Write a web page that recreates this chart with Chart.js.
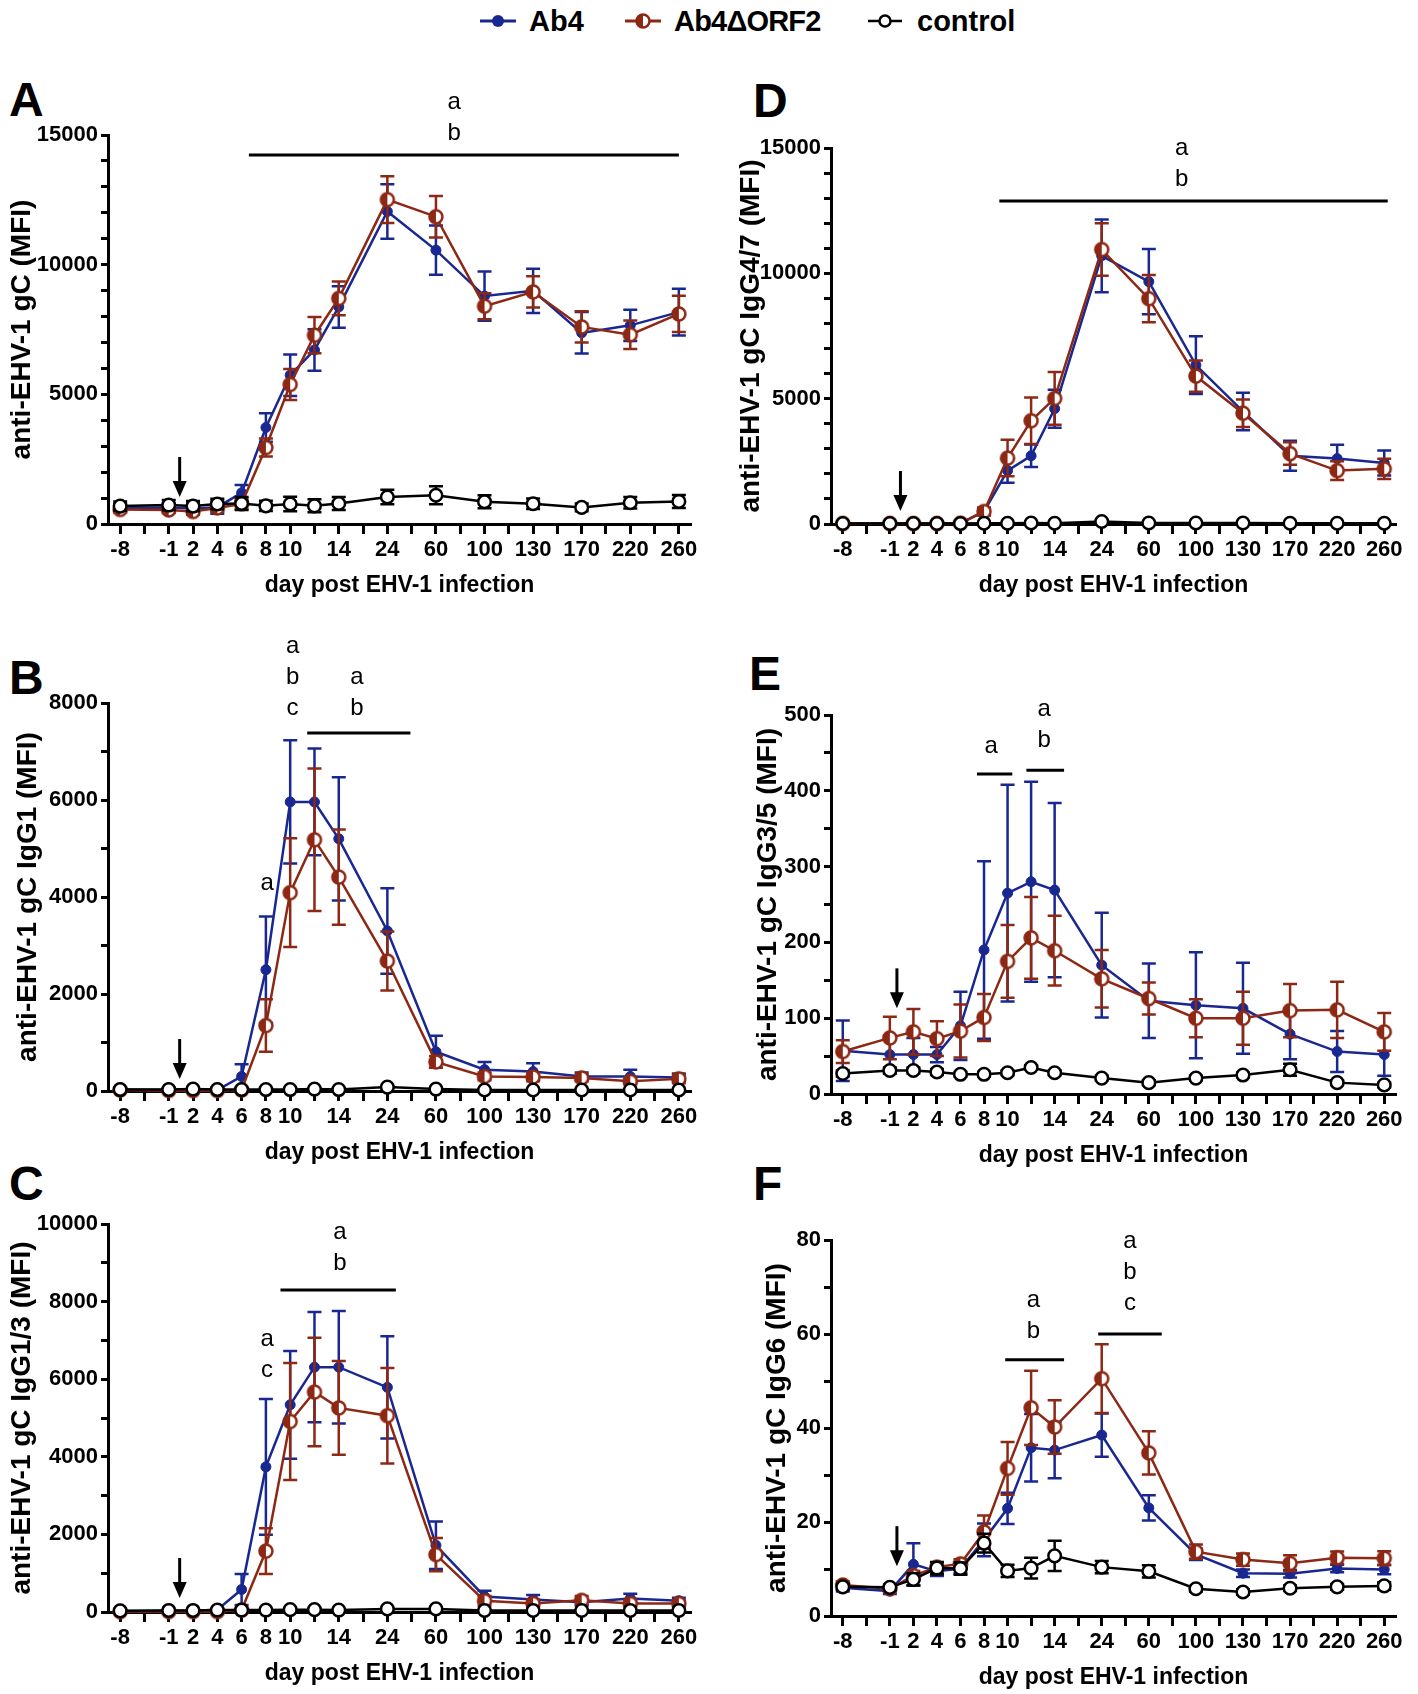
<!DOCTYPE html>
<html>
<head>
<meta charset="utf-8">
<script src="https://cdn.jsdelivr.net/npm/chart.js@4.4.1/dist/chart.umd.min.js"></script>
<style>
  body { margin: 0; background: #fff; width: 1418px; height: 1694px; position: relative; overflow: hidden;
         font-family: 'Liberation Sans', Arial, sans-serif; color: #000; }
  .abs { position: absolute; }
  .letter { position: absolute; font-weight: bold; font-size: 48px; line-height: 1; }
  .legtxt { position: absolute; top: 0; font-weight: bold; font-size: 29px; line-height: 42px; }
</style>
</head>
<body>

<!-- legend -->
<svg class="abs" style="left:480px;top:11px" width="36" height="20">
  <line x1="0" y1="10" x2="36" y2="10" stroke="#192891" stroke-width="3"/>
  <circle cx="18" cy="10" r="6" fill="#192891"/>
</svg>
<span class="legtxt" style="left:529px">Ab4</span>
<svg class="abs" style="left:625px;top:11px" width="36" height="20">
  <line x1="0" y1="10" x2="36" y2="10" stroke="#8c2814" stroke-width="3"/>
  <circle cx="18" cy="10" r="6.5" fill="#fff" stroke="#8c2814" stroke-width="2.5"/>
  <path d="M18 3.5 A6.5 6.5 0 0 0 18 16.5 Z" fill="#8c2814"/>
</svg>
<span class="legtxt" style="left:674px;letter-spacing:-0.8px">Ab4ΔORF2</span>
<svg class="abs" style="left:868px;top:11px" width="34" height="20">
  <line x1="0" y1="10" x2="34" y2="10" stroke="#000" stroke-width="2.5"/>
  <circle cx="17" cy="10" r="5.5" fill="#fff" stroke="#000" stroke-width="2.5"/>
</svg>
<span class="legtxt" style="left:917px">control</span>

<div class="letter" style="left:9px;top:76px">A</div>
<div class="letter" style="left:753px;top:77px">D</div>
<div class="letter" style="left:9px;top:654px">B</div>
<div class="letter" style="left:749px;top:650px">E</div>
<div class="letter" style="left:9px;top:1160px">C</div>
<div class="letter" style="left:753px;top:1160px">F</div>

<div class="abs" style="left:0;top:60px"><canvas id="cA" width="709" height="544"></canvas></div>
<div class="abs" style="left:709px;top:60px"><canvas id="cD" width="709" height="544"></canvas></div>
<div class="abs" style="left:0;top:615px"><canvas id="cB" width="709" height="559"></canvas></div>
<div class="abs" style="left:709px;top:615px"><canvas id="cE" width="709" height="559"></canvas></div>
<div class="abs" style="left:0;top:1170px"><canvas id="cC" width="709" height="524"></canvas></div>
<div class="abs" style="left:709px;top:1170px"><canvas id="cF" width="709" height="524"></canvas></div>

<script>
// x axis slots (blank slots are the gaps Prism leaves between days)
const xLabels = ['-8', '', '-1', '2', '4', '6', '8', '10', '12', '14', '', '24', '', '60', '', '100', '', '130', '', '170', '', '220', '', '260'];
const days = ['-8', '-1', '2', '4', '6', '8', '10', '12', '14', '24', '60', '100', '130', '170', '220', '260'];

// A: total gC
const aAb4     = [620, 640, 600, 650, 1200, 3720, 5740, 6710, 8370, 12050, 10560, 8790, 8990, 7370, 7660, 8170];
const aAb4Err  = [150, 150, 200, 250, 300, 550, 800, 800, 800, 1050, 950, 950, 850, 800, 600, 900];
const aOrf2    = [560, 540, 480, 620, 780, 2950, 5380, 7280, 8700, 12510, 11850, 8400, 8950, 7600, 7300, 8100];
const aOrf2Err = [120, 120, 120, 150, 200, 350, 600, 700, 650, 900, 800, 500, 600, 600, 550, 700];
const aCtrl    = [690, 730, 690, 770, 790, 700, 770, 700, 790, 1040, 1110, 860, 780, 640, 820, 870];
const aCtrlErr = [180, 200, 200, 200, 250, 200, 280, 250, 250, 280, 350, 250, 200, 150, 220, 250];

// B: IgG1
const bAb4     = [30, 20, 40, 20, 300, 2500, 5960, 5960, 5200, 3300, 810, 440, 400, 300, 300, 280];
const bAb4Err  = [10, 10, 10, 10, 250, 1100, 1270, 1100, 1270, 880, 330, 160, 170, 80, 140, 80];
const bOrf2    = [20, 10, 10, 10, 20, 1350, 4090, 5180, 4410, 2680, 600, 300, 290, 270, 200, 250];
const bOrf2Err = [10, 10, 10, 10, 10, 540, 1120, 1470, 980, 610, 120, 80, 90, 70, 60, 90];
const bCtrl    = [30, 30, 40, 30, 30, 30, 30, 40, 30, 80, 40, 20, 20, 20, 20, 20];
const bCtrlErr = [10, 10, 10, 10, 10, 10, 10, 10, 10, 20, 10, 10, 10, 10, 10, 10];

// C: IgG1/3
const cAb4     = [20, 30, 30, 60, 580, 3740, 5340, 6310, 6310, 5790, 1720, 400, 320, 250, 350, 290];
const cAb4Err  = [10, 10, 10, 20, 400, 1750, 1390, 1420, 1450, 1320, 610, 150, 120, 80, 120, 80];
const cOrf2    = [10, 10, 10, 10, 50, 1570, 4910, 5670, 5260, 5060, 1480, 290, 220, 300, 220, 220];
const cOrf2Err = [10, 10, 10, 10, 20, 590, 1510, 1400, 1210, 1230, 430, 120, 100, 110, 80, 80];
const cCtrl    = [30, 40, 40, 50, 50, 50, 60, 60, 50, 80, 80, 40, 40, 40, 40, 40];
const cCtrlErr = [10, 10, 10, 10, 10, 10, 10, 10, 10, 20, 20, 10, 10, 10, 10, 10];

// D: IgG4/7
const dAb4     = [20, 20, 20, 20, 30, 500, 2130, 2720, 4600, 10700, 9670, 6340, 4490, 2720, 2610, 2430];
const dAb4Err  = [10, 10, 10, 10, 20, 150, 480, 450, 760, 1450, 1300, 1150, 750, 600, 550, 500];
const dOrf2    = [20, 20, 20, 20, 30, 500, 2630, 4120, 5010, 10950, 8990, 5900, 4420, 2810, 2130, 2200];
const dOrf2Err = [10, 10, 10, 10, 20, 150, 730, 930, 1050, 1050, 940, 620, 550, 450, 370, 400];
const dCtrl    = [20, 20, 20, 20, 20, 30, 30, 40, 30, 100, 40, 40, 40, 30, 30, 30];
const dCtrlErr = [5, 5, 5, 5, 5, 5, 5, 5, 5, 10, 5, 5, 5, 5, 5, 5];

// E: IgG3/5
const eAb4     = [57, 52, 52, 52, 90, 190, 265, 280, 269, 170, 123, 117, 113, 79, 56, 52];
const eAb4Err  = [40, 25, 22, 10, 45, 117, 143, 132, 115, 69, 49, 70, 60, 33, 27, 28];
const eOrf2    = [56, 74, 82, 73, 83, 101, 175, 206, 189, 152, 126, 100, 100, 110, 111, 82];
const eOrf2Err = [15, 28, 30, 23, 35, 31, 48, 54, 46, 38, 21, 25, 35, 35, 37, 25];
const eCtrl    = [27, 31, 31, 29, 26, 26, 28, 35, 28, 21, 15, 21, 25, 32, 15, 12];
const eCtrlErr = [4, 4, 4, 4, 3, 3, 3, 3, 3, 3, 3, 3, 3, 8, 3, 3];

// F: IgG6
const fAb4     = [6.0, 5.3, 11.0, 9.5, 10.1, 16.2, 22.9, 35.8, 35.3, 38.5, 23.0, 13.1, 9.1, 9.0, 10.1, 9.9];
const fAb4Err  = [0.8, 0.6, 4.5, 1.0, 1.0, 3.5, 3.3, 7.2, 6.0, 4.6, 2.7, 1.2, 0.8, 0.8, 0.8, 1.0];
const fOrf2    = [6.6, 5.8, 8.6, 10.4, 11.1, 17.9, 31.4, 44.3, 40.2, 50.5, 34.7, 13.7, 12.0, 11.2, 12.4, 12.3];
const fOrf2Err = [0.8, 0.6, 1.0, 1.0, 1.0, 3.5, 5.6, 7.9, 5.7, 7.3, 4.6, 1.5, 1.3, 1.7, 1.3, 1.5];
const fCtrl    = [6.2, 6.1, 7.8, 10.2, 10.1, 15.5, 9.6, 10.2, 12.8, 10.4, 9.5, 5.8, 5.1, 5.9, 6.2, 6.4];
const fCtrlErr = [0.6, 0.6, 1.3, 1.3, 1.3, 2.0, 1.3, 2.2, 3.2, 1.3, 1.3, 0.6, 0.6, 0.6, 0.6, 0.8];

const blue = '#192891';
const brown = '#8c2814';
const narrow = "'Liberation Sans Narrow', 'Liberation Sans', Arial, sans-serif";
const sans = "'Liberation Sans', Arial, sans-serif";
const X_H = 78;
const Y_TITLE = 28;

// layout of each panel on the page, plus significance marks (x in slot units, y in data units)
const panels = [
  { id: 'cA', left: 0, top: 60, h: 544, area: { top: 135, bottom: 524, left: 108, right: 691 },
    max: 15000, step: 1000, major: 5000, title: 'anti-EHV-1 gC (MFI)', titleX: 22,
    s: [aAb4, aAb4Err, aOrf2, aOrf2Err, aCtrl, aCtrlErr],
    bars: [{ from: 5.3, to: 23.0, y: 14229 }],
    marks: [{ x: 13.75, y: 15077, text: ['a', 'b'] }],
    arrow: { x: 2.45, y: 1041 } },
  { id: 'cD', left: 709, top: 60, h: 544, area: { top: 148, bottom: 524, left: 831, right: 1396 },
    max: 15000, step: 1000, major: 5000, title: 'anti-EHV-1 gC IgG4/7 (MFI)', titleX: 751,
    s: [dAb4, dAb4Err, dOrf2, dOrf2Err, dCtrl, dCtrlErr],
    bars: [{ from: 6.65, to: 23.15, y: 12886 }],
    marks: [{ x: 14.4, y: 13763, text: ['a', 'b'] }],
    arrow: { x: 2.45, y: 519 } },
  { id: 'cB', left: 0, top: 615, h: 559, area: { top: 703, bottom: 1091, left: 108, right: 691 },
    max: 8000, step: 1000, major: 2000, title: 'anti-EHV-1 gC IgG1 (MFI)', titleX: 28,
    s: [bAb4, bAb4Err, bOrf2, bOrf2Err, bCtrl, bCtrlErr],
    bars: [{ from: 7.7, to: 11.95, y: 7381 }],
    marks: [{ x: 7.1, y: 7897, text: ['a', 'b', 'c'] }, { x: 9.75, y: 7897, text: ['a', 'b'] },
            { x: 6.05, y: 4289, text: ['a'] }],
    arrow: { x: 2.45, y: 247 } },
  { id: 'cE', left: 709, top: 615, h: 559, area: { top: 715, bottom: 1094, left: 831, right: 1396 },
    max: 500, step: 50, major: 100, title: 'anti-EHV-1 gC IgG3/5 (MFI)', titleX: 768,
    s: [eAb4, eAb4Err, eOrf2, eOrf2Err, eCtrl, eCtrlErr],
    bars: [{ from: 5.7, to: 7.2, y: 422 }, { from: 7.8, to: 9.4, y: 427 }],
    marks: [{ x: 6.3, y: 459, text: ['a'] }, { x: 8.55, y: 466, text: ['a', 'b'] }],
    arrow: { x: 2.3, y: 113 } },
  { id: 'cC', left: 0, top: 1170, h: 524, area: { top: 1224, bottom: 1612, left: 108, right: 691 },
    max: 10000, step: 1000, major: 2000, title: 'anti-EHV-1 gC IgG1/3 (MFI)', titleX: 22,
    s: [cAb4, cAb4Err, cOrf2, cOrf2Err, cCtrl, cCtrlErr],
    bars: [{ from: 6.6, to: 11.35, y: 8299 }],
    marks: [{ x: 9.05, y: 8995, text: ['a', 'b'] }, { x: 6.05, y: 6237, text: ['a', 'c'] }],
    arrow: { x: 2.45, y: 361 } },
  { id: 'cF', left: 709, top: 1170, h: 524, area: { top: 1240, bottom: 1616, left: 831, right: 1396 },
    max: 80, step: 10, major: 20, title: 'anti-EHV-1 gC IgG6 (MFI)', titleX: 777,
    s: [fAb4, fAb4Err, fOrf2, fOrf2Err, fCtrl, fCtrlErr],
    bars: [{ from: 6.9, to: 9.4, y: 54.5 }, { from: 10.85, to: 13.55, y: 60.0 }],
    marks: [{ x: 8.1, y: 60.6, text: ['a', 'b'] }, { x: 12.2, y: 66.6, text: ['a', 'b', 'c'] }],
    arrow: { x: 2.3, y: 10.6 } }
];

// half filled circle used by Prism for the ΔORF2 group
function halfDot(r, color, lw) {
  const c = document.createElement('canvas');
  const s = Math.ceil(2 * r + lw + 2);
  c.width = c.height = s;
  const g = c.getContext('2d');
  const m = s / 2;
  g.fillStyle = '#fff';
  g.beginPath(); g.arc(m, m, r, 0, 2 * Math.PI); g.fill();
  g.fillStyle = color;
  g.beginPath(); g.arc(m, m, r, Math.PI / 2, Math.PI * 1.5); g.closePath(); g.fill();
  g.lineWidth = lw; g.strokeStyle = color;
  g.beginPath(); g.arc(m, m, r, 0, 2 * Math.PI); g.stroke();
  return c;
}
const brownDot = halfDot(6.5, brown, 2.5);

const pts = vals => vals.map((v, i) => ({ x: days[i], y: v }));

const errorBars = {
  id: 'errorBars',
  beforeDatasetDraw(chart, args) {
    const ds = chart.data.datasets[args.index];
    if (!ds.errors) return;
    const ys = chart.scales.y, ctx = chart.ctx;
    ctx.save();
    ctx.strokeStyle = ds.borderColor;
    ctx.lineWidth = 2.5;
    args.meta.data.forEach((pt, i) => {
      const v = ds.data[i].y, e = ds.errors[i];
      const top = ys.getPixelForValue(v + e);
      const bot = ys.getPixelForValue(Math.max(v - e, 0));
      ctx.beginPath();
      ctx.moveTo(pt.x, top); ctx.lineTo(pt.x, bot);
      ctx.moveTo(pt.x - 7, top); ctx.lineTo(pt.x + 7, top);
      ctx.moveTo(pt.x - 7, bot); ctx.lineTo(pt.x + 7, bot);
      ctx.stroke();
    });
    ctx.restore();
  }
};

function sigMarks(p) {
  return {
    id: 'sig',
    afterDraw(chart) {
      const xs = chart.scales.x, ys = chart.scales.y, ctx = chart.ctx;
      ctx.save();
      ctx.strokeStyle = '#000';
      ctx.fillStyle = '#000';
      ctx.lineWidth = 3;
      p.bars.forEach(b => {
        const y = ys.getPixelForValue(b.y);
        ctx.beginPath();
        ctx.moveTo(xs.getPixelForValue(b.from), y);
        ctx.lineTo(xs.getPixelForValue(b.to), y);
        ctx.stroke();
      });
      ctx.font = '24px ' + sans;
      ctx.textAlign = 'center';
      ctx.textBaseline = 'middle';
      p.marks.forEach(m => {
        const x = xs.getPixelForValue(m.x), y = ys.getPixelForValue(m.y);
        const n = m.text.length;
        m.text.forEach((t, i) => ctx.fillText(t, x, y - (n - 1 - i) * 31));
      });
      // infection arrow
      const ax = xs.getPixelForValue(p.arrow.x), tip = ys.getPixelForValue(p.arrow.y);
      ctx.beginPath();
      ctx.moveTo(ax, tip - 40); ctx.lineTo(ax, tip - 12);
      ctx.stroke();
      ctx.beginPath();
      ctx.moveTo(ax - 7, tip - 16); ctx.lineTo(ax + 7, tip - 16); ctx.lineTo(ax, tip);
      ctx.closePath(); ctx.fill();
      ctx.restore();
    }
  };
}

panels.forEach(p => {
  const [ab4, ab4Err, orf2, orf2Err, ctrl, ctrlErr] = p.s;
  const tickFont = { family: narrow, size: 22, weight: 'bold' };
  new Chart(document.getElementById(p.id), {
    type: 'line',
    data: {
      labels: xLabels,
      datasets: [
        { label: 'Ab4', data: pts(ab4), errors: ab4Err, borderColor: blue, backgroundColor: blue,
          pointBackgroundColor: blue, pointBorderColor: blue, pointRadius: 5, pointBorderWidth: 1,
          borderWidth: 2.5, tension: 0, order: 2, clip: false },
        { label: 'Ab4ΔORF2', data: pts(orf2), errors: orf2Err, borderColor: brown, backgroundColor: brown,
          pointStyle: brownDot, pointRadius: 7, borderWidth: 2.5, tension: 0, order: 1, clip: false },
        { label: 'control', data: pts(ctrl), errors: ctrlErr, borderColor: '#000', backgroundColor: '#fff',
          pointBackgroundColor: '#fff', pointBorderColor: '#000', pointRadius: 6.3, pointBorderWidth: 2.5,
          borderWidth: 2.5, tension: 0, order: 0, clip: false }
      ]
    },
    options: {
      responsive: false,
      animation: false,
      devicePixelRatio: 1,
      events: [],
      layout: {
        padding: {
          left: 0,
          right: p.left + 709 - p.area.right,
          top: p.area.top - p.top,
          bottom: p.h - (p.area.bottom - p.top) - X_H
        }
      },
      plugins: { legend: { display: false }, tooltip: { enabled: false } },
      scales: {
        x: {
          type: 'category',
          offset: true,
          grid: { display: true, drawOnChartArea: false, drawTicks: true, tickLength: 10, tickWidth: 3,
                  tickColor: '#000', offset: false },
          border: { display: true, width: 3, color: '#000' },
          ticks: { autoSkip: false, maxRotation: 0, minRotation: 0, color: '#000', padding: 3, font: tickFont,
                   callback: (v, i) => (xLabels[i] === '12' ? '' : xLabels[i]) },
          title: { display: true, text: 'day post EHV-1 infection', color: '#000',
                   font: { family: sans, size: 23, weight: 'bold', lineHeight: 1.2 },
                   padding: { top: 0, bottom: 3 } },
          afterFit: s => { s.height = X_H; }
        },
        y: {
          min: 0,
          max: p.max,
          grid: { display: true, drawOnChartArea: false, drawTicks: true, tickLength: 7, tickWidth: 3,
                  tickColor: '#000' },
          border: { display: true, width: 3, color: '#000' },
          ticks: { stepSize: p.step, autoSkip: false, color: '#000', padding: 3, font: tickFont,
                   callback: v => (v % p.major === 0 ? String(v) : '') },
          title: { display: true, text: p.title, color: '#000',
                   font: { family: sans, size: Y_TITLE, weight: 'bold', lineHeight: 1.2 },
                   padding: { top: p.titleX - p.left - Y_TITLE * 0.6, bottom: 0 } },
          afterFit: s => { s.width = p.area.left - p.left; }
        }
      }
    },
    plugins: [errorBars, sigMarks(p)]
  });
});
</script>
</body>
</html>
